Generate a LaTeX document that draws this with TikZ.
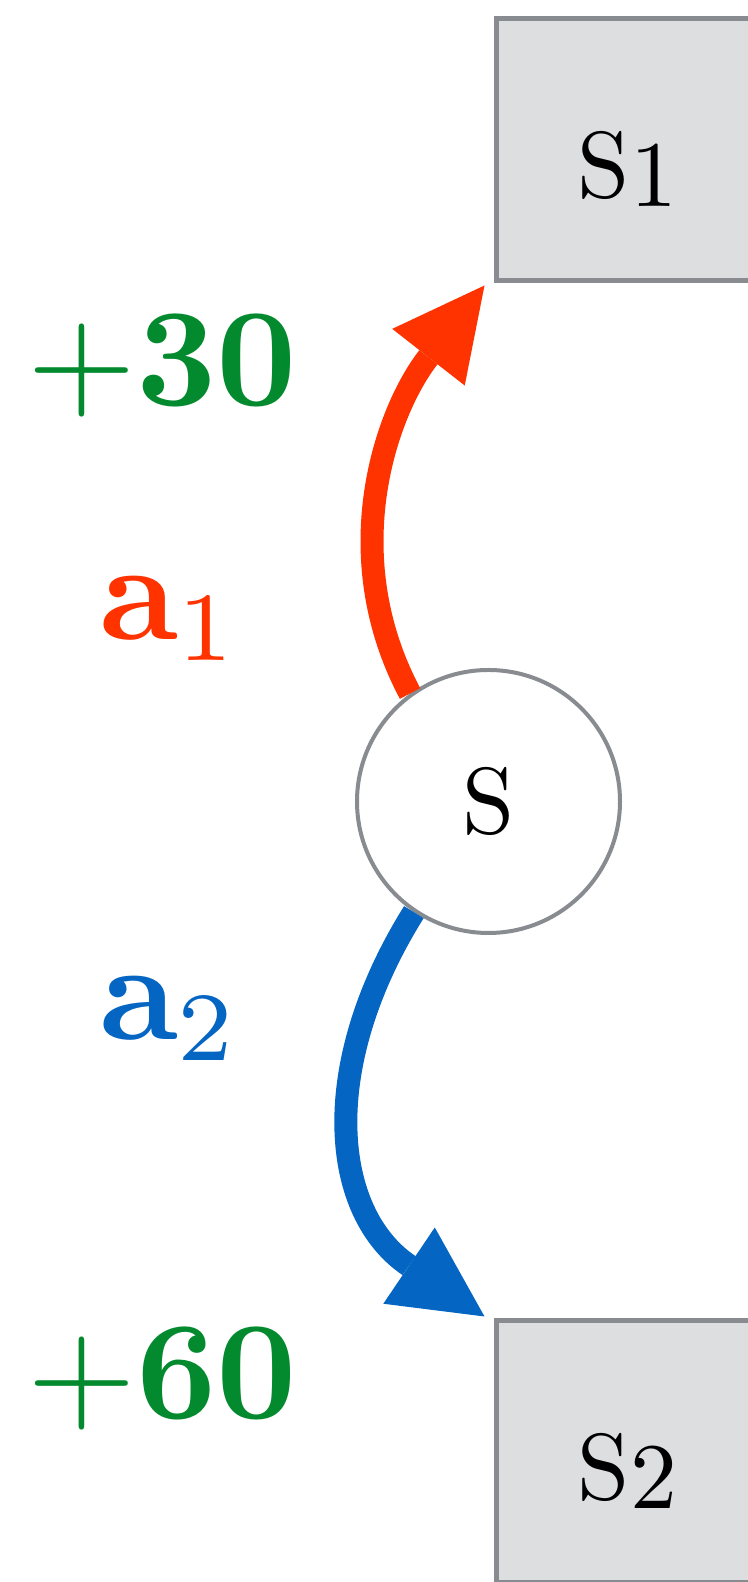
\documentclass[tikz,border=0pt]{standalone}
\usepackage{amsmath}
\usepackage{graphicx}
\usepackage{tikz}
\usepackage{xcolor}
\usetikzlibrary{calc, positioning, arrows.meta}

\definecolor{actred}{HTML}{FF3300}
\definecolor{actblue}{HTML}{0565C2}
\definecolor{rewgreen}{HTML}{048A2E}
\definecolor{edgegray}{HTML}{888B90}
\definecolor{boxgray}{HTML}{DDDEE0}

\newcommand{\nodetxt}[1]{\scalebox{2.67}{#1}}
\newcommand{\lbltxt}[1]{\scalebox{3.98}{#1}}

\begin{document}
\begin{tikzpicture}[
  statenode/.style={circle, draw=edgegray, line width=0.04cm, fill=white, minimum size=2.63cm, inner sep=0pt},
  outbox/.style={rectangle, draw=edgegray, fill=boxgray, line width=0.05cm, minimum width=2.62cm, minimum height=2.62cm, inner sep=0pt, text height=0.96cm, text depth=0pt},
  lbl/.style={anchor=base west, inner sep=0pt},
  arr/.style={-{Triangle[length=0.91cm, width=0.92cm, line width=0pt]}, line width=0.23cm}
]
\useasboundingbox (0,0) rectangle (7.48,15.82);

\node[statenode] (s) at (4.885,7.805) {\nodetxt{S}};
\node[outbox] (s1) at (6.275,14.325) {\nodetxt{S\raisebox{-1pt}{1}}};
\node[outbox] (s2) at (6.275,1.305) {\nodetxt{S\raisebox{-1pt}{2}}};

\node[lbl, text=rewgreen] (r1) at (0.27,11.76) {\lbltxt{$+\mathbf{30}$}};
\node[lbl, text=actred] (a1) at (0.99,9.42) {\lbltxt{$\mathbf{a}_1$}};
\node[lbl, text=actblue] (a2) at (0.99,5.42) {\lbltxt{$\mathbf{a}_2$}};
\node[lbl, text=rewgreen] (r2) at (0.27,1.63) {\lbltxt{$+\mathbf{60}$}};

\draw[arr, actred] (s.126) to[out=118, in=232, looseness=0.98] ([shift={(-0.095,-0.025)}]s1.south west);
\draw[arr, actblue] (s.236) to[out=238, in=146, looseness=1.15] ([shift={(-0.095,0.015)}]s2.north west);
\end{tikzpicture}
\end{document}
